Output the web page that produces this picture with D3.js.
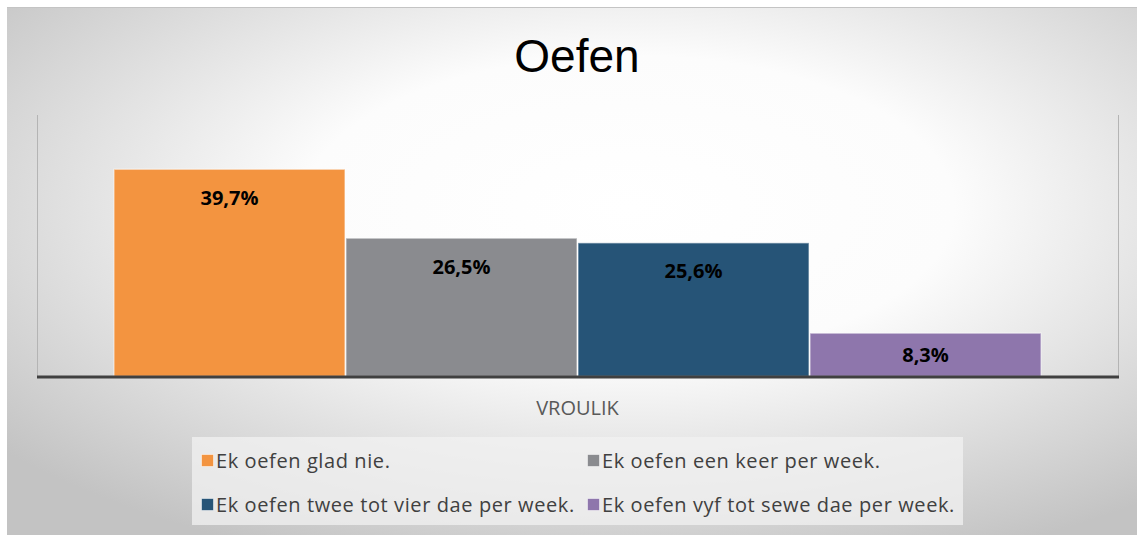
<!DOCTYPE html>
<html>
<head>
<meta charset="utf-8">
<script src="https://cdn.jsdelivr.net/npm/d3@7"></script>
<style>
  body { margin: 0; background: #fff; }
  svg text { font-family: "Open Sans", sans-serif; }
</style>
</head>
<body>
<div id="chart"></div>
<script>
const WIDTH  = 1137;
const HEIGHT = 536;
const PLOT   = { left: 37, right: 1118, top: 115, bottom: 376 };

const categories = ['VROULIK'];
const series     = ['Ek oefen glad nie.', 'Ek oefen een keer per week.',
                    'Ek oefen twee tot vier dae per week.', 'Ek oefen vyf tot sewe dae per week.'];
const values     = [39.7, 26.5, 25.6, 8.3];
const colors     = ['#f39440', '#8a8b8f', '#265477', '#8e76ac'];

const svg = d3.select('#chart').append('svg')
  .attr('width', WIDTH)
  .attr('height', HEIGHT);

// background gradient
const defs = svg.append('defs');
const grad = defs.append('radialGradient')
  .attr('id', 'bg')
  .attr('cx', 0.55).attr('cy', 0.38).attr('r', 0.72);
grad.append('stop').attr('offset', 0).attr('stop-color', '#ffffff');
grad.append('stop').attr('offset', 0.4).attr('stop-color', '#fcfcfc');
grad.append('stop').attr('offset', 1).attr('stop-color', '#c3c3c3');

svg.append('rect')
  .attr('x', 7).attr('y', 7)
  .attr('width', WIDTH - 7).attr('height', 528)
  .attr('fill', 'url(#bg)');
svg.append('line')
  .attr('x1', 7).attr('x2', WIDTH).attr('y1', 7.5).attr('y2', 7.5)
  .attr('stroke', '#c4c4c4');

// title
svg.append('text')
  .attr('x', 577).attr('y', 72)
  .attr('text-anchor', 'middle')
  .style('font-family', '"Liberation Sans", Arial, sans-serif')
  .style('font-size', '46px')
  .attr('fill', '#000')
  .text('Oefen');

// scales
const x0 = d3.scaleBand().domain(categories)
  .range([PLOT.left, PLOT.right]).paddingInner(0).paddingOuter(0.0824);
const x1 = d3.scaleBand().domain(series).range([0, x0.bandwidth()]);
const y  = d3.scaleLinear().domain([0, 50]).range([PLOT.bottom, PLOT.top]);
const fmt = d3.formatLocale({ decimal: ',', thousands: '.', grouping: [3], currency: ['', ''] }).format('.1f');

// plot frame side lines
svg.selectAll('line.side').data([PLOT.left, PLOT.right]).enter().append('line')
  .attr('class', 'side')
  .attr('x1', d => d + 0.5).attr('x2', d => d + 0.5)
  .attr('y1', PLOT.top).attr('y2', PLOT.bottom)
  .attr('stroke', '#b4b4b4');

const rows = series.map((s, i) => ({ cat: categories[0], s, v: values[i], c: colors[i] }));

const g = svg.append('g');
g.selectAll('rect.bar').data(rows).enter().append('rect')
  .attr('class', 'bar')
  .attr('x', d => x0(d.cat) + x1(d.s) + 0.5)
  .attr('y', d => y(d.v) + 0.5)
  .attr('width', x1.bandwidth() - 1)
  .attr('height', d => y(0) - y(d.v))
  .attr('fill', d => d.c)
  .attr('stroke', 'rgba(255,255,255,0.45)')
  .attr('stroke-width', 1.5);

g.selectAll('text.lbl').data(rows).enter().append('text')
  .attr('class', 'lbl')
  .attr('x', d => x0(d.cat) + x1(d.s) + x1.bandwidth() / 2)
  .attr('y', d => y(d.v) + Math.min(36, (y(0) - y(d.v)) * 0.67))
  .attr('text-anchor', 'middle')
  .style('font-size', '20px')
  .style('font-weight', 'bold')
  .attr('fill', '#000')
  .text(d => fmt(d.v) + '%');

// baseline
svg.append('line')
  .attr('x1', PLOT.left).attr('x2', PLOT.right + 1)
  .attr('y1', PLOT.bottom + 1).attr('y2', PLOT.bottom + 1)
  .attr('stroke', '#404040').attr('stroke-width', 3);

// category label
svg.selectAll('text.cat').data(categories).enter().append('text')
  .attr('class', 'cat')
  .attr('x', d => x0(d) + x0.bandwidth() / 2)
  .attr('y', 415)
  .attr('text-anchor', 'middle')
  .style('font-size', '20px')
  .attr('fill', '#595959')
  .text(d => d);

// legend
svg.append('rect')
  .attr('x', 192).attr('y', 437).attr('width', 771).attr('height', 88)
  .attr('fill', '#f2f2f2').attr('opacity', 0.75);

const legX = [201, 587];
const legY = [461, 505];
const leg = svg.selectAll('g.leg').data(rows).enter().append('g')
  .attr('class', 'leg')
  .attr('transform', (d, i) => 'translate(' + legX[i % 2] + ',' + legY[Math.floor(i / 2)] + ')');
leg.append('rect')
  .attr('x', 0.5).attr('y', -6.5).attr('width', 12).attr('height', 12)
  .attr('fill', d => d.c)
  .attr('stroke', 'rgba(255,255,255,0.5)');
leg.append('text')
  .attr('x', 15).attr('y', 7)
  .style('font-size', '20px')
  .style('letter-spacing', '0.6px')
  .attr('fill', '#404040')
  .text(d => d.s);
</script>
</body>
</html>
